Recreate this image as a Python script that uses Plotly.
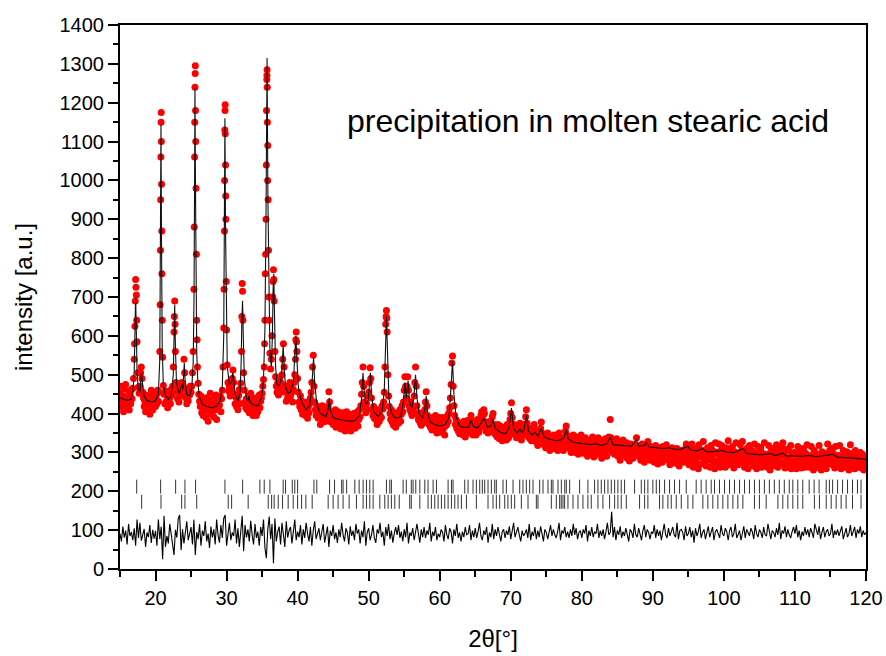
import numpy as np
import plotly.graph_objects as go

# ---------------- data ----------------
# observed intensities, 0.1 deg scan step, one row per degree (15.0 ... 119.9), then 120.0
obs_start = 15.0
obs_step = 0.1
obs_rows = [
 [452,418,470,431,446,405,463,428,475,420],  # 15
 [441,419,458,409,447,425,462,438,465,490],  # 16
 [540,625,745,705,585,505,468,452,470,505],  # 17
 [520,490,455,440,418,432,405,447,420,438],  # 18
 [412,445,398,433,460,421,409,452,427,440],  # 19
 [418,447,425,460,432,455,560,820,1175,760], # 20
 [545,472,450,425,458,431,447,415,452,436],  # 21
 [441,425,462,447,470,520,610,690,560,480],  # 22
 [455,438,466,430,452,470,462,480,445,470],  # 23
 [540,505,462,440,425,452,433,460,448,470],  # 24
 [455,470,505,560,720,1060,1295,980,640,520],# 25
 [478,450,432,418,445,402,428,395,437,412],  # 26
 [425,390,441,408,380,430,415,452,398,420],  # 27
 [405,437,392,425,410,448,385,430,418,440],  # 28
 [422,445,405,438,460,520,620,870,1195,900], # 29
 [615,525,480,458,470,445,470,462,490,512],  # 30
 [480,450,425,442,418,436,410,447,462,425],  # 31
 [478,560,735,640,505,460,430,415,438,410],  # 32
 [428,445,402,436,452,418,430,395,422,440],  # 33
 [410,428,395,437,405,420,448,415,432,440],  # 34
 [452,470,488,520,640,810,1040,1285,1090,820],# 35
 [640,555,515,540,600,700,770,690,560,495],  # 36
 [470,455,480,448,470,492,455,478,500,540],  # 37
 [580,520,470,455,432,460,440,470,452,480],  # 38
 [445,470,455,430,462,480,500,540,610,560],  # 39
 [490,455,430,418,445,410,432,398,415,405],  # 40
 [420,395,408,430,388,415,402,425,440,455],  # 41
 [480,520,550,470,430,410,395,420,402,388],  # 42
 [395,410,372,402,385,420,378,398,412,390],  # 43
 [380,402,395,418,456,430,395,378,405,385],  # 44
 [372,398,380,410,365,392,375,405,388,370],  # 45
 [395,360,385,402,378,365,392,355,388,405],  # 46
 [370,385,362,398,380,355,392,375,368,400],  # 47
 [385,362,395,372,405,368,385,410,392,420],  # 48
 [450,480,520,470,430,415,402,425,410,445],  # 49
 [455,480,518,490,440,410,395,418,388,402],  # 50
 [385,410,372,398,405,380,395,412,390,420],  # 51
 [412,430,455,520,630,665,610,500,445,418],  # 52
 [400,385,410,378,395,370,402,388,365,392],  # 53
 [385,402,375,395,410,380,398,420,405,430],  # 54
 [460,495,470,440,470,495,460,420,410,430],  # 55
 [402,395,420,410,445,480,520,470,420,398],  # 56
 [385,402,378,395,370,390,375,402,388,410],  # 57
 [430,456,420,395,380,372,390,365,380,358],  # 58
 [372,385,360,378,395,365,350,382,370,390],  # 59
 [365,380,352,372,390,360,378,345,368,385],  # 60
 [372,395,380,402,415,440,475,530,548,470],  # 61
 [420,395,372,385,362,378,355,370,348,365],  # 62
 [375,352,368,345,380,360,340,372,355,382],  # 63
 [365,350,378,372,395,380,360,345,372,352],  # 64
 [368,345,372,385,360,352,378,365,395,405],  # 65
 [380,395,410,400,370,355,378,362,350,372],  # 66
 [358,380,362,375,392,400,372,350,365,345],  # 67
 [360,340,372,352,335,368,345,362,330,355],  # 68
 [348,365,340,358,332,372,350,338,362,385],  # 69
 [400,428,390,365,350,372,345,360,338,352],  # 70
 [365,340,358,375,345,332,360,350,372,345],  # 71
 [370,392,410,375,355,340,362,335,350,330],  # 72
 [352,338,360,372,342,328,355,340,318,345],  # 73
 [335,350,362,378,350,330,345,320,338,312],  # 74
 [340,325,350,318,335,305,342,328,315,338],  # 75
 [322,345,310,332,318,340,305,328,350,315],  # 76
 [330,312,338,320,305,335,340,355,368,345],  # 77
 [328,315,340,310,325,300,332,318,345,312],  # 78
 [325,300,318,340,312,295,330,308,322,345],  # 79
 [315,332,298,320,310,338,302,325,290,318],  # 80
 [330,305,322,295,315,340,308,288,325,312],  # 81
 [300,325,312,338,295,318,305,330,285,315],  # 82
 [322,298,315,335,305,290,325,310,340,318],  # 83
 [385,338,315,300,328,308,295,322,310,335],  # 84
 [305,290,318,302,280,325,310,295,332,300],  # 85
 [315,292,308,325,285,300,318,278,305,322],  # 86
 [298,310,285,305,320,295,312,338,318,300],  # 87
 [290,312,295,280,305,322,288,300,275,310],  # 88
 [318,295,305,328,290,302,280,315,298,285],  # 89
 [310,292,275,305,318,288,300,270,295,312],  # 90
 [285,305,292,275,315,298,282,308,290,320],  # 91
 [295,280,310,290,268,302,285,312,278,298],  # 92
 [288,305,272,295,310,282,298,265,290,305],  # 93
 [280,298,285,305,275,292,310,322,300,285],  # 94
 [300,268,315,290,275,322,285,262,305,292],  # 95
 [285,310,272,298,258,320,288,302,270,295],  # 96
 [305,328,292,278,300,265,290,312,280,298],  # 97
 [290,262,318,282,305,275,295,258,325,300],  # 98
 [278,300,268,322,290,262,305,318,285,272],  # 99
 [300,285,262,312,298,275,330,268,290,305],  # 100
 [272,295,315,282,260,302,278,325,290,285],  # 101
 [268,298,280,320,288,305,328,292,275,262],  # 102
 [295,272,310,285,258,300,318,275,290,305],  # 103
 [280,302,265,322,292,270,258,298,315,285],  # 104
 [272,290,312,262,298,282,268,325,295,278],  # 105
 [290,262,285,318,272,255,302,288,265,310],  # 106
 [275,298,268,285,320,280,262,305,290,275],  # 107
 [292,270,312,325,295,275,260,288,308,270],  # 108
 [285,305,262,282,318,258,295,278,268,300],  # 109
 [298,275,258,292,315,280,265,302,285,260],  # 110
 [288,270,310,282,262,298,275,320,268,290],  # 111
 [262,292,278,315,270,288,255,305,280,268],  # 112
 [295,280,262,290,318,268,285,255,302,275],  # 113
 [282,265,298,278,258,292,322,270,288,305],  # 114
 [278,310,288,268,298,275,260,315,272,285],  # 115
 [265,292,275,318,282,258,290,270,305,278],  # 116
 [290,262,280,302,268,288,255,285,320,272],  # 117
 [272,298,265,285,258,305,278,292,262,280],  # 118
 [285,268,300,275,260,295,272,255,290,268],  # 119
 [278],                                       # 120
]

# extra observed points on the flanks of the strong reflections
obs_peak_x = [17.05,17.15,17.25,17.35,20.65,20.72,20.75,20.78,20.82,20.85,20.88,20.95,22.65,22.75,
              25.45,25.52,25.55,25.58,25.63,25.66,25.75,25.85,29.65,29.72,29.75,29.78,29.82,29.85,29.88,29.95,
              32.15,32.25,35.35,35.45,35.55,35.62,35.66,35.68,35.72,35.75,35.78,35.85,35.95,
              36.55,36.65,39.75,39.85,52.45,52.55]
obs_peak_y = [580,690,725,640,680,950,1060,1150,1100,990,870,640,650,630,
              880,1150,1240,1275,1180,1100,810,590,720,1000,1130,1180,1120,1040,960,740,
              650,715,580,760,900,1180,1260,1270,1240,1150,1000,950,700,
              740,745,590,585,650,645]

# calculated (refined) profile
calc_pts = [(15.0,440),(15.5,437),(16.0,434),(16.5,436),(16.8,450),(17.0,510),(17.1,590),(17.2,700),(17.3,610),
 (17.4,510),(17.55,465),(17.8,455),(17.95,490),(18.05,505),(18.15,480),(18.4,445),(18.8,433),(19.5,430),(20.0,433),
 (20.4,450),(20.6,540),(20.7,800),(20.77,1143),(20.85,820),(20.95,560),(21.1,475),(21.4,447),(21.8,437),(22.2,445),
 (22.5,500),(22.6,580),(22.7,680),(22.8,570),(22.95,480),(23.3,452),(23.65,468),(23.75,475),(23.85,462),(23.95,500),
 (24.05,530),(24.15,490),(24.4,450),(24.8,445),(25.1,465),(25.3,530),(25.42,700),(25.5,1000),(25.55,1238),(25.62,1000),
 (25.7,750),(25.8,560),(25.95,480),(26.2,440),(26.6,425),(27.2,418),(28.0,415),(28.6,420),(29.1,432),(29.4,470),
 (29.6,600),(29.7,850),(29.77,1160),(29.85,880),(29.95,640),(30.1,520),(30.4,475),(30.7,480),(30.85,505),(30.95,498),
 (31.2,450),(31.6,432),(31.9,455),(32.05,530),(32.15,640),(32.25,690),(32.35,600),(32.5,490),(32.8,440),(33.05,432),
 (33.15,445),(33.3,430),(33.8,422),(34.4,420),(34.7,430),(35.0,450),(35.2,490),(35.4,620),(35.55,900),(35.7,1315),
 (35.82,950),(35.95,700),(36.1,560),(36.3,520),(36.45,600),(36.55,720),(36.65,760),(36.75,650),(36.9,520),(37.1,475),
 (37.4,472),(37.7,490),(37.9,550),(37.97,575),(38.1,520),(38.3,470),(38.6,452),(39.0,455),(39.4,480),(39.6,540),
 (39.75,600),(39.9,540),(40.1,470),(40.4,440),(40.7,425),(41.2,410),(41.7,420),(42.0,470),(42.15,540),(42.25,545),
 (42.4,480),(42.7,425),(43.2,400),(44.0,392),(44.3,410),(44.45,440),(44.6,410),(45.0,390),(46.0,384),(47.0,381),
 (48.0,381),(48.7,395),(49.0,440),(49.2,505),(49.35,460),(49.6,425),(49.9,430),(50.1,480),(50.25,505),(50.4,450),
 (50.7,405),(51.3,392),(51.9,405),(52.2,460),(52.35,580),(52.5,650),(52.65,560),(52.85,440),(53.2,400),(53.8,388),
 (54.5,392),(54.9,430),(55.1,480),(55.3,440),(55.55,485),(55.75,430),(56.1,415),(56.4,450),(56.6,500),(56.8,440),
 (57.1,400),(57.6,388),(57.9,410),(58.1,445),(58.3,400),(58.7,378),(59.3,372),(60.0,368),(60.8,372),(61.3,390),
 (61.6,470),(61.8,535),(62.0,450),(62.3,392),(62.8,368),(63.5,364),(64.1,365),(64.4,383),(64.7,368),(65.3,362),
 (65.9,378),(66.3,388),(66.7,365),(67.2,368),(67.5,385),(67.8,362),(68.5,352),(69.3,348),(69.8,365),(70.1,414),
 (70.4,362),(70.9,350),(71.3,360),(71.6,350),(71.9,362),(72.2,396),(72.5,355),(73.0,345),(73.4,352),(73.8,342),
 (74.3,362),(74.7,340),(75.5,334),(76.3,330),(77.0,332),(77.5,338),(77.8,358),(78.1,335),(78.8,326),(79.5,324),
 (80.3,322),(81.2,320),(82.0,322),(82.8,318),(83.5,322),(84.0,340),(84.4,320),(85.3,318),(86.2,316),(87.0,316),
 (87.7,332),(88.1,315),(88.8,318),(89.1,325),(89.5,314),(90.5,312),(91.5,310),(92.3,312),(93.0,308),(94.0,308),
 (94.9,316),(95.3,306),(96.2,304),(97.0,310),(97.5,302),(98.5,302),(99.8,305),(100.5,300),(101.5,300),(102.7,310),
 (103.2,298),(104.3,295),(105.3,294),(106.6,297),(107.2,292),(108.3,298),(108.8,291),(109.8,291),(111.0,290),
 (112.0,292),(113.0,289),(114.1,292),(115.3,295),(116.0,288),(117.0,287),(118.0,286),(119.0,284),(120.0,282)]

# difference curve (offset), 0.2 deg step, one row per degree
diff_start = 15.0
diff_step = 0.2
diff_rows = [
 [91,71,109,81,99],[63,116,85,95,74],[105,60,127,80,119],[73,88,103,57,94],[82,113,67,101,78],      # 15-19
 [98,60,127,77,109],[25,137,57,85,66],[116,91,68,36,101],[81,130,139,49,102],[66,96,123,74,88],      # 20-24
 [108,63,127,36,95],[77,116,60,99,85],[123,71,91,54,109],[81,102,63,127,88],[68,113,80,130,139],     # 25-29
 [60,99,119,74,94],[85,127,66,105,57],[95,137,46,113,81],[102,71,124,88,63],[116,80,96,60,108],      # 30-34
 [85,127,54,28,102],[135,77,116,15,130],[71,96,109,63,119],[88,57,123,81,99],[108,66,91,127,74],     # 35-39
 [96,82,113,63,102],[80,119,91,71,108],[60,99,123,77,94],[105,74,96,116,68],[91,109,57,99,85],       # 40-44
 [113,77,94,67,102],[82,119,88,71,105],[94,63,110,85,99],[74,116,91,102,66],[99,82,123,60,95],       # 45-49
 [105,74,88,113,80],[67,102,91,119,82],[96,60,108,85,116],[77,99,68,91,108],[88,113,80,96,71],       # 50-54
 [102,82,119,66,94],[85,105,74,96,116],[91,68,102,82,108],[80,99,88,119,71],[96,85,108,74,91],       # 55-59
 [82,102,94,71,113],[88,77,105,96,66],[102,85,116,80,94],[71,96,82,108,88],[91,113,74,99,82],        # 60-64
 [105,80,96,119,85],[74,99,88,108,68],[94,82,116,77,102],[85,108,91,71,96],[102,80,99,88,110],       # 65-69
 [77,96,119,82,94],[108,88,71,99,85],[91,102,80,116,74],[96,85,108,77,99],[82,110,91,71,102],        # 70-74
 [94,77,99,113,85],[102,88,80,96,119],[74,99,91,108,82],[96,80,102,85,116],[88,105,77,94,99],        # 75-79
 [80,102,91,113,71],[99,85,108,82,96],[91,116,80,99,85],[102,77,96,119,88],[94,147,82,108,74],       # 80-84
 [99,88,110,80,96],[85,105,91,71,102],[96,80,116,88,82],[105,91,74,99,113],[82,102,94,77,96],        # 85-89
 [91,113,80,102,85],[99,74,96,116,88],[80,105,85,96,108],[88,82,119,77,99],[102,94,74,110,85],       # 90-94
 [91,108,82,99,68],[105,85,96,116,80],[94,102,77,91,110],[82,99,108,74,96],[102,88,80,113,91],       # 95-99
 [85,105,96,74,99],[108,82,91,116,80],[88,99,74,96,110],[80,102,94,85,105],[96,77,113,91,82],        # 100-104
 [102,94,80,108,88],[85,116,96,77,99],[94,82,105,88,119],[77,99,91,110,82],[102,88,80,96,108],       # 105-109
 [91,113,82,99,74],[96,85,108,88,102],[82,105,94,80,116],[99,88,110,77,94],[108,82,96,102,85],       # 110-114
 [91,116,80,99,88],[102,85,96,110,77],[94,105,82,91,113],[85,96,108,80,102],[91,110,82,99,88],       # 115-119
 [94],                                                                                                # 120
]

# Bragg reflection positions of the two phases
phase1_pos = [17.35,20.72,22.83,24.14,25.64,29.77,32.26,34.69,35.3,36.1,37.97,38.3,39.25,39.6,40.0,42.3,42.7,44.5,45.2,
 46.2,46.4,46.9,48.05,48.66,49.22,49.69,50.16,50.63,52.5,52.97,53.2,54.85,55.3,56.0,56.25,56.63,57.2,57.9,58.36,59.07,
 59.54,61.18,61.65,61.88,63.52,63.99,64.69,65.16,65.63,66.0,66.33,66.8,67.27,67.74,67.97,68.91,69.38,70.32,71.26,71.72,
 72.19,72.66,73.13,74.07,74.54,75.24,75.71,75.94,76.65,77.12,77.6,77.82,78.29,79.69,80.86,81.8,82.27,82.74,83.21,83.68,
 84.15,84.62,85.08,85.55,86.02,87.43,88.37,88.84,89.3,90.0,90.48,90.94,91.65,92.35,93.05,93.76,94.7,96.1,96.8,97.5,
 98.21,98.68,99.38,100.09,100.79,101.49,102.2,102.9,103.6,104.3,105.0,105.7,106.4,107.1,107.8,108.5,109.2,109.7,110.4,
 111.1,112.0,112.7,113.4,114.4,114.85,115.3,116.0,116.7,117.4,118.1,118.8,119.3]
phase2_pos = [18.05,20.77,23.68,24.14,25.8,30.23,30.71,33.04,35.86,36.34,36.7,37.27,37.88,38.67,39.38,40.0,40.56,41.16,
 42.05,44.3,45.0,45.7,46.4,47.25,48.28,49.22,49.69,50.16,50.63,51.57,52.27,52.74,53.2,53.68,54.3,55.78,56.0,57.2,58.36,
 58.83,59.3,59.77,60.24,60.71,61.18,61.65,62.12,62.58,63.05,63.76,65.16,66.8,67.5,67.97,68.44,69.15,69.6,70.08,70.55,
 71.49,72.43,73.6,73.83,75.71,76.41,76.88,77.1,77.35,77.58,78.05,78.76,79.46,80.16,80.86,81.33,82.27,82.97,83.91,84.62,
 85.08,85.55,86.26,88.13,88.84,89.3,90.94,91.41,92.12,92.59,93.29,94.0,94.93,95.63,97.04,97.74,98.44,99.15,99.85,
 100.56,101.26,101.96,102.67,104.3,105.0,105.95,107.6,108.29,109.0,109.7,110.4,111.1,112.74,113.45,114.4,115.1,115.8,
 116.5,117.2,118.1,119.3]
phase1_level = 212
phase2_level = 173

title_text = "precipitation in molten stearic acid"

# ---------------- build arrays ----------------
obs_y = [v for row in obs_rows for v in row]
obs_x = list(np.round(obs_start + obs_step * np.arange(len(obs_y)), 3))
all_obs_x = obs_x + obs_peak_x
all_obs_y = obs_y + obs_peak_y
calc_x = [p[0] for p in calc_pts]
calc_y = [p[1] for p in calc_pts]
diff_y = [v for row in diff_rows for v in row]
diff_x = list(np.round(diff_start + diff_step * np.arange(len(diff_y)), 3))

fig = go.Figure()
fig.add_trace(go.Scatter(x=all_obs_x, y=all_obs_y, mode="markers",
                         marker=dict(color="#ff0000", size=7, line=dict(width=0)), name="obs"))
fig.add_trace(go.Scatter(x=calc_x, y=calc_y, mode="lines",
                         line=dict(color="#111111", width=1.1), name="calc"))
fig.add_trace(go.Scatter(x=diff_x, y=diff_y, mode="lines",
                         line=dict(color="#000000", width=1.1), name="diff"))
fig.add_trace(go.Scatter(x=phase1_pos, y=[phase1_level] * len(phase1_pos), mode="markers",
                         marker=dict(symbol="line-ns", size=10, line=dict(color="#333333", width=1)), name="p1"))
fig.add_trace(go.Scatter(x=phase2_pos, y=[phase2_level] * len(phase2_pos), mode="markers",
                         marker=dict(symbol="line-ns", size=10, line=dict(color="#333333", width=1)), name="p2"))

fig.add_annotation(x=80.9, y=1153, xref="x", yref="y", text=title_text, showarrow=False,
                   xanchor="center", yanchor="middle", font=dict(size=32, color="#000000"))

axis_common = dict(showgrid=False, zeroline=False, showline=True, linecolor="#000000", linewidth=2,
                   mirror=True, ticks="outside", ticklen=10, tickwidth=1.5, tickcolor="#000000",
                   tickfont=dict(size=20, color="#000000"), automargin=False)
fig.update_xaxes(range=[15, 120], tickmode="linear", tick0=0, dtick=10,
                 minor=dict(ticks="outside", dtick=5, tick0=0, ticklen=6, tickwidth=1.5, tickcolor="#000000"),
                 title=dict(text="2θ[°]", font=dict(size=24, color="#000000"), standoff=22), **axis_common)
fig.update_yaxes(range=[0, 1400], tickmode="linear", tick0=0, dtick=100,
                 minor=dict(ticks="outside", dtick=50, tick0=0, ticklen=5, tickwidth=1.5, tickcolor="#000000"),
                 title=dict(text="intensity [a.u.]", font=dict(size=24, color="#000000"), standoff=20),
                 **axis_common)
fig.update_layout(width=886, height=656, margin=dict(l=120, r=20, t=25, b=87),
                  plot_bgcolor="white", paper_bgcolor="white", showlegend=False,
                  font=dict(family="Liberation Sans, Arial, sans-serif", color="#000000"))
fig.write_html("out.html")
